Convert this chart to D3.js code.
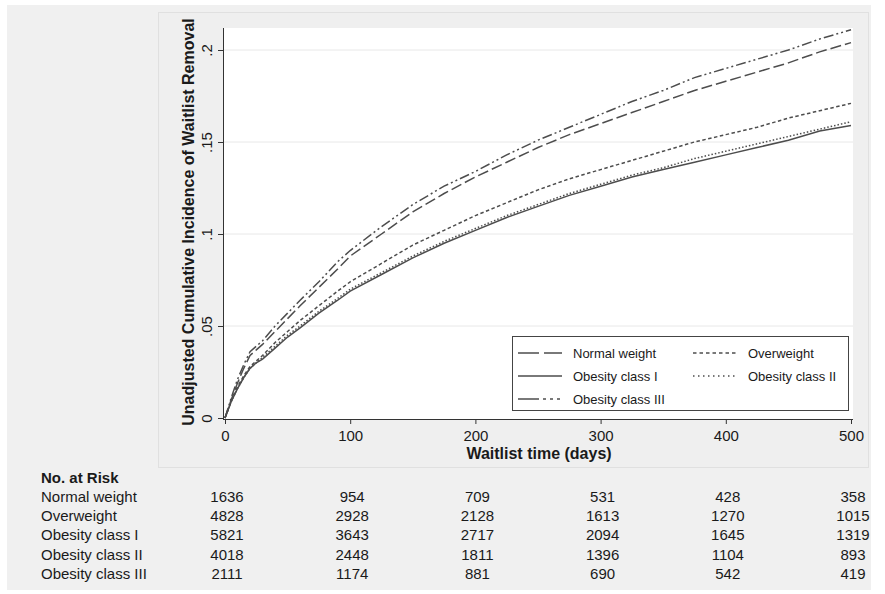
<!DOCTYPE html>
<html lang="en">
<head>
  <meta charset="utf-8" />
  <title>Cumulative incidence of waitlist removal</title>
  <style>
    body {
      margin: 0;
      background: #ffffff;
      font-family: 'Liberation Sans', Arial, sans-serif;
    }
    svg { display: block; }
    .grid line { stroke: #e8e8e8; stroke-width: 1px; }
    .axis path, .axis line { stroke: #333; stroke-width: 1px; }
    .axis text { fill: #1a1a1a; font-size: 15px; }
    .curve { fill: none; stroke: #4d4d4d; stroke-width: 1.5px; }
    .risk text { fill: #1a1a1a; font-size: 15px; }
  </style>
</head>
<body>
<div id="chart"></div>

<script src="https://d3js.org/d3.v7.min.js"></script>
<script>
// ---------------------------------------------------------
// Data
// ---------------------------------------------------------
const days = [0, 5, 10, 15, 20, 25, 30, 40, 50, 60, 75, 90, 100, 125, 150, 175,
              200, 225, 250, 275, 300, 325, 350, 375, 400, 425, 450, 475, 500];

const normalWeight = [0, .010, .019, .027, .034, .037, .040, .047, .054, .061, .071, .081, .088, .100, .112, .122,
                      .131, .139, .147, .154, .160, .166, .172, .178, .183, .188, .193, .199, .204];
const overweight   = [0, .009, .017, .023, .028, .031, .034, .041, .047, .053, .061, .069, .074, .084, .094, .102,
                      .110, .117, .124, .130, .135, .140, .145, .150, .154, .158, .163, .167, .171];
const obesityI     = [0, .009, .016, .022, .027, .030, .032, .038, .044, .049, .057, .064, .069, .078, .087, .095,
                      .102, .109, .115, .121, .126, .131, .135, .139, .143, .147, .151, .156, .159];
const obesityII    = [0, .009, .016, .022, .027, .030, .033, .039, .045, .050, .058, .065, .070, .079, .088, .096,
                      .103, .110, .116, .122, .127, .132, .136, .141, .145, .149, .153, .157, .161];
const obesityIII   = [0, .011, .021, .029, .036, .039, .042, .050, .057, .064, .074, .085, .091, .104, .116, .126,
                      .134, .143, .151, .158, .165, .172, .178, .185, .190, .195, .200, .206, .211];

const groups = ["Normal weight", "Overweight", "Obesity class I", "Obesity class II", "Obesity class III"];
const dashes = ["11,4", "3.5,2.5", null, "1.5,2", "10,3,2,3,2,3"];
const legendDashes = ["21,5", "3.5,3", null, "1.5,3.5", "21,4,3,4,3,4,3"];

const xTicks = [0, 100, 200, 300, 400, 500];
const yTicks = [0, .05, .1, .15, .2];
const yTickLabels = ["0", ".05", ".1", ".15", ".2"];

// number at risk, one row per group, one column per x tick
const riskNormal = [1636, 954, 709, 531, 428, 358];
const riskOver   = [4828, 2928, 2128, 1613, 1270, 1015];
const riskObI    = [5821, 3643, 2717, 2094, 1645, 1319];
const riskObII   = [4018, 2448, 1811, 1396, 1104, 893];
const riskObIII  = [2111, 1174, 881, 690, 542, 419];

const series = [normalWeight, overweight, obesityI, obesityII, obesityIII];
const risk = [riskNormal, riskOver, riskObI, riskObII, riskObIII];

// ---------------------------------------------------------
// Layout
// ---------------------------------------------------------
const W = 885, H = 594;
const plot = { left: 223, right: 853, top: 28, bottom: 419 };

const svg = d3.select("#chart").append("svg")
  .attr("width", W)
  .attr("height", H);

// backgrounds
svg.append("rect").attr("x", 7).attr("y", 5).attr("width", 864).attr("height", 585)
  .attr("fill", "#f0f0f0");
svg.append("rect").attr("x", 158.5).attr("y", 12.5).attr("width", 710).attr("height", 455)
  .attr("fill", "#efefef").attr("stroke", "#e0e0e0");
svg.append("rect").attr("x", plot.left).attr("y", plot.top)
  .attr("width", plot.right - plot.left).attr("height", plot.bottom - plot.top)
  .attr("fill", "#ffffff");

const x = d3.scaleLinear().domain([0, 500]).range([225, 851]);
const y = d3.scaleLinear().domain([0, .2]).range([418, 50]);

// gridlines
svg.append("g").attr("class", "grid")
  .selectAll("line")
  .data(yTicks.filter(d => d > 0))
  .join("line")
    .attr("x1", plot.left).attr("x2", plot.right)
    .attr("y1", d => y(d)).attr("y2", d => y(d));

// curves
const line = d3.line()
  .x((d, i) => x(days[i]))
  .y(d => y(d));

svg.append("g")
  .selectAll("path")
  .data(series)
  .join("path")
    .attr("class", "curve")
    .attr("d", d => line(d))
    .attr("stroke-dasharray", (d, i) => dashes[i]);

// x axis
const xAxis = svg.append("g").attr("class", "axis")
  .attr("transform", `translate(0,${plot.bottom})`)
  .call(d3.axisBottom(x).tickValues(xTicks).tickSize(5).tickSizeOuter(0).tickPadding(6));
xAxis.select(".domain").attr("d", `M${plot.left},0.5H${plot.right}`);

svg.append("text")
  .attr("x", (plot.left + plot.right) / 2 + 1)
  .attr("y", 459)
  .attr("text-anchor", "middle")
  .attr("font-size", 16)
  .attr("font-weight", "bold")
  .attr("fill", "#1a1a1a")
  .text("Waitlist time (days)");

// y axis
const yAxis = svg.append("g").attr("class", "axis")
  .attr("transform", `translate(${plot.left},0)`)
  .call(d3.axisLeft(y).tickValues(yTicks).tickSize(5).tickSizeOuter(0)
    .tickFormat((d, i) => yTickLabels[i]));
yAxis.select(".domain").attr("d", `M0.5,${plot.top}V${plot.bottom}`);
yAxis.selectAll(".tick text")
  .attr("x", 0).attr("dy", 0)
  .attr("text-anchor", "middle")
  .attr("font-size", 16)
  .attr("transform", "translate(-11,0) rotate(-90)");

svg.append("text")
  .attr("transform", "translate(194,222) rotate(-90)")
  .attr("text-anchor", "middle")
  .attr("font-size", 16)
  .attr("font-weight", "bold")
  .attr("fill", "#1a1a1a")
  .text("Unadjusted Cumulative Incidence of Waitlist Removal");

// legend
const legend = svg.append("g").attr("transform", "translate(512,336)");
legend.append("rect")
  .attr("x", 0.5).attr("y", 0.5).attr("width", 336).attr("height", 74)
  .attr("fill", "#ffffff").attr("stroke", "#444");

const legendPos = [[0, 0], [1, 0], [0, 1], [1, 1], [0, 2]];
const item = legend.selectAll("g.item")
  .data(groups)
  .join("g")
    .attr("class", "item")
    .attr("transform", (d, i) => `translate(${6 + legendPos[i][0] * 175},${17 + legendPos[i][1] * 23})`);

item.append("line")
  .attr("x1", 0).attr("x2", 44)
  .attr("stroke", "#4d4d4d").attr("stroke-width", 1.5)
  .attr("stroke-dasharray", (d, i) => legendDashes[i]);

item.append("text")
  .attr("x", 55).attr("dy", "0.35em")
  .attr("font-size", 13)
  .attr("fill", "#1a1a1a")
  .text(d => d);

// number at risk table
const table = svg.append("g").attr("class", "risk");
table.append("text")
  .attr("x", 41).attr("y", 483)
  .attr("font-weight", "bold")
  .text("No. at Risk");

const rows = table.selectAll("g.row")
  .data(risk)
  .join("g")
    .attr("class", "row")
    .attr("transform", (d, i) => `translate(0,${502 + i * 19.2})`);

rows.append("text")
  .attr("x", 41)
  .text((d, i) => groups[i]);

rows.selectAll("text.n")
  .data(d => d)
  .join("text")
    .attr("class", "n")
    .attr("x", (d, j) => x(xTicks[j]) + 2)
    .attr("text-anchor", "middle")
    .text(d => d);
</script>
</body>
</html>
